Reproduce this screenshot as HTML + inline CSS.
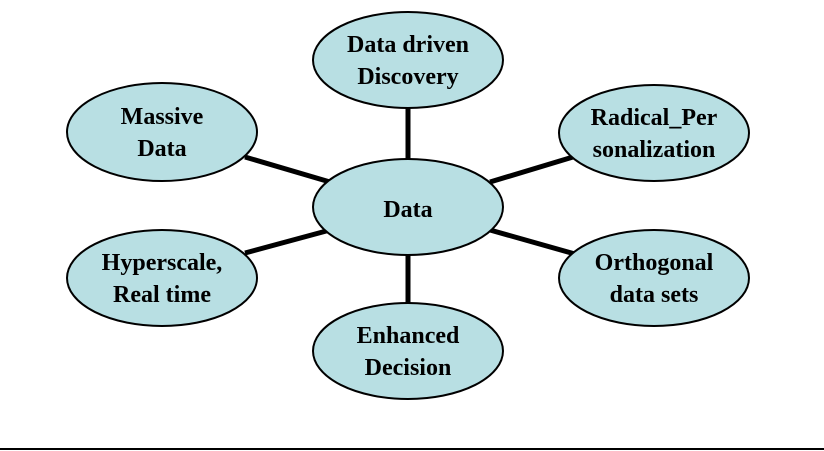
<!DOCTYPE html>
<html><head><style>html,body{margin:0;padding:0;background:#fff;}svg{display:block}</style></head>
<body>
<svg width="824" height="451" viewBox="0 0 824 451" xmlns="http://www.w3.org/2000/svg">
<g stroke="#000" stroke-width="5">
<line x1="408" y1="108" x2="408" y2="160"/>
<line x1="408" y1="254" x2="408" y2="304"/>
<line x1="245" y1="157" x2="330" y2="182"/>
<line x1="245" y1="253" x2="330" y2="230"/>
<line x1="490" y1="182" x2="573" y2="157"/>
<line x1="490" y1="230" x2="575" y2="254"/>
</g>
<g fill="#b8dfe3" stroke="#000" stroke-width="2">
<ellipse cx="408" cy="60" rx="95" ry="48"/>
<ellipse cx="162" cy="132" rx="95" ry="49"/>
<ellipse cx="654" cy="133" rx="95" ry="48"/>
<ellipse cx="408" cy="207" rx="95" ry="48"/>
<ellipse cx="162" cy="278" rx="95" ry="48"/>
<ellipse cx="654" cy="278" rx="95" ry="48"/>
<ellipse cx="408" cy="351" rx="95" ry="48"/>
</g>
<g font-family="Liberation Serif, serif" font-weight="bold" font-size="24" text-anchor="middle" fill="#000">
<text x="408" y="52">Data driven</text><text x="408" y="84">Discovery</text>
<text x="162" y="124">Massive</text><text x="162" y="156">Data</text>
<text x="654" y="125">Radical_Per</text><text x="654" y="157">sonalization</text>
<text x="408" y="217">Data</text>
<text x="162" y="270">Hyperscale,</text><text x="162" y="302">Real time</text>
<text x="654" y="270">Orthogonal</text><text x="654" y="302">data sets</text>
<text x="408" y="343">Enhanced</text><text x="408" y="375">Decision</text>
</g>
<line x1="0" y1="449" x2="824" y2="449" stroke="#000" stroke-width="2"/>
</svg>
</body></html>
